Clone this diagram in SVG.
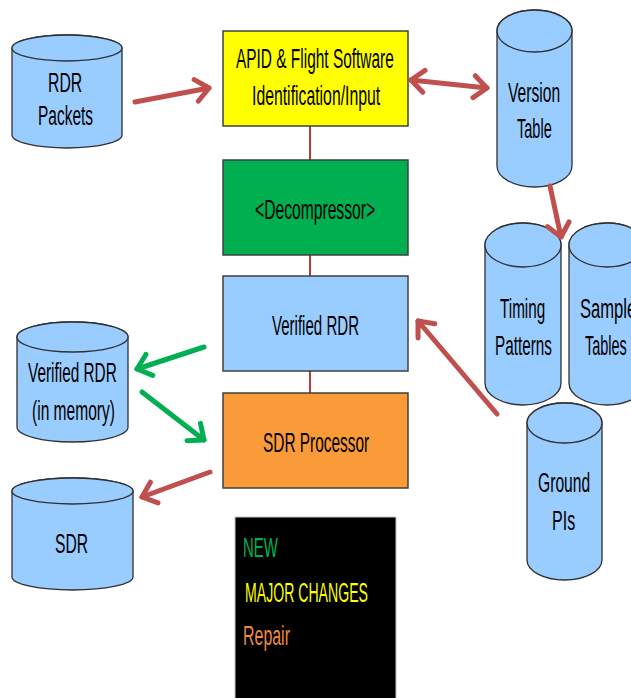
<svg xmlns="http://www.w3.org/2000/svg" width="631" height="698" viewBox="0 0 631 698">
  <style>
    .box { stroke: #404040; stroke-width: 1.5; }
    .cyl { fill: #99CCFF; stroke: #303030; stroke-width: 1.3; }
    .lbl { font-family: "Liberation Sans", Arial, sans-serif; font-size: 28px; fill: #000; }
    .leg { font-family: "Liberation Sans", Arial, sans-serif; font-size: 28px; }
    .red { fill: none; stroke: #C0504D; stroke-width: 5; stroke-linecap: round; }
    .green { fill: none; stroke: #00B050; stroke-width: 5; stroke-linecap: round; }
    .link { stroke: #B0403D; stroke-width: 2; }
  </style>
  <defs>
    <marker id="headRed" markerUnits="userSpaceOnUse" viewBox="-16 -14 20 28" markerWidth="20" markerHeight="28" refX="0" refY="0" orient="auto-start-reverse" overflow="visible">
      <path d="M -13,-11 L 0,0 L -13,11" fill="none" stroke="#C0504D" stroke-width="5" stroke-linecap="round" stroke-linejoin="round"/>
    </marker>
    <marker id="headGreen" markerUnits="userSpaceOnUse" viewBox="-16 -14 20 28" markerWidth="20" markerHeight="28" refX="0" refY="0" orient="auto" overflow="visible">
      <path d="M -13,-11 L 0,0 L -13,11" fill="none" stroke="#00B050" stroke-width="5" stroke-linecap="round" stroke-linejoin="round"/>
    </marker>
  </defs>
  <rect width="631" height="698" fill="#FFFFFF"/>

  <!-- vertical links of the processing chain -->
  <g id="chain-links">
    <line class="link" x1="310" y1="126" x2="310" y2="160"/>
    <line class="link" x1="310" y1="255" x2="310" y2="276"/>
    <line class="link" x1="310" y1="371" x2="310" y2="393"/>
  </g>

  <!-- processing boxes; labels use a condensed (x-scaled) face -->
  <g id="apid">
    <rect class="box" x="223" y="31" width="185" height="95" fill="#FFFF00"/>
    <text class="lbl" transform="translate(236,68) scale(0.58,1)" textLength="272" lengthAdjust="spacingAndGlyphs">APID &amp; Flight Software</text>
    <text class="lbl" transform="translate(252,105) scale(0.58,1)" textLength="221" lengthAdjust="spacingAndGlyphs">Identification/Input</text>
  </g>
  <g id="decompressor">
    <rect class="box" x="223" y="160" width="185" height="95" fill="#00B050"/>
    <text class="lbl" transform="translate(255,219) scale(0.58,1)" textLength="207" lengthAdjust="spacingAndGlyphs">&lt;Decompressor&gt;</text>
  </g>
  <g id="verified-rdr">
    <rect class="box" x="223" y="276" width="185" height="95" fill="#99CCFF"/>
    <text class="lbl" transform="translate(272,335) scale(0.58,1)" textLength="150" lengthAdjust="spacingAndGlyphs">Verified RDR</text>
  </g>
  <g id="sdr-processor">
    <rect class="box" x="223" y="393" width="185" height="95" fill="#F99B38"/>
    <text class="lbl" transform="translate(263,452) scale(0.58,1)" textLength="183" lengthAdjust="spacingAndGlyphs">SDR Processor</text>
  </g>

  <!-- data stores (cylinders) -->
  <g id="rdr-packets">
    <path class="cyl" d="M12,48 L12,135 A55,13 0 0 0 122,135 L122,48 A55,13 0 0 0 12,48 Z"/>
    <ellipse class="cyl" cx="67" cy="48" rx="55" ry="13"/>
    <text class="lbl" transform="translate(48,92) scale(0.58,1)" textLength="59" lengthAdjust="spacingAndGlyphs">RDR</text>
    <text class="lbl" transform="translate(38,125) scale(0.58,1)" textLength="95" lengthAdjust="spacingAndGlyphs">Packets</text>
  </g>
  <g id="version-table">
    <path class="cyl" d="M497,31 L497,166 A37.5,21 0 0 0 572,166 L572,31 A37.5,21 0 0 0 497,31 Z"/>
    <ellipse class="cyl" cx="534.5" cy="31" rx="37.5" ry="21"/>
    <text class="lbl" transform="translate(508,102) scale(0.58,1)" textLength="90" lengthAdjust="spacingAndGlyphs">Version</text>
    <text class="lbl" transform="translate(517,138) scale(0.58,1)" textLength="60" lengthAdjust="spacingAndGlyphs">Table</text>
  </g>
  <g id="timing-patterns">
    <path class="cyl" d="M485,245 L485,383 A38,22 0 0 0 561,383 L561,245 A38,22 0 0 0 485,245 Z"/>
    <ellipse class="cyl" cx="523" cy="245" rx="38" ry="22"/>
    <text class="lbl" transform="translate(500,318) scale(0.58,1)" textLength="78" lengthAdjust="spacingAndGlyphs">Timing</text>
    <text class="lbl" transform="translate(495,355) scale(0.58,1)" textLength="98" lengthAdjust="spacingAndGlyphs">Patterns</text>
  </g>
  <g id="sample-tables">
    <path class="cyl" d="M569,245 L569,383 A38,22 0 0 0 645,383 L645,245 A38,22 0 0 0 569,245 Z"/>
    <ellipse class="cyl" cx="607" cy="245" rx="38" ry="22"/>
    <text class="lbl" transform="translate(580,318) scale(0.58,1)" textLength="97" lengthAdjust="spacingAndGlyphs">Sample</text>
    <text class="lbl" transform="translate(585,355) scale(0.58,1)" textLength="72" lengthAdjust="spacingAndGlyphs">Tables</text>
  </g>
  <g id="ground-pis">
    <path class="cyl" d="M527,423 L527,560 A37.5,20 0 0 0 602,560 L602,423 A37.5,20 0 0 0 527,423 Z"/>
    <ellipse class="cyl" cx="564.5" cy="423" rx="37.5" ry="20"/>
    <text class="lbl" transform="translate(538,492) scale(0.58,1)" textLength="90" lengthAdjust="spacingAndGlyphs">Ground</text>
    <text class="lbl" transform="translate(552,530) scale(0.58,1)" textLength="40" lengthAdjust="spacingAndGlyphs">PIs</text>
  </g>
  <g id="verified-rdr-memory">
    <path class="cyl" d="M17,337 L17,427 A55.5,15 0 0 0 128,427 L128,337 A55.5,15 0 0 0 17,337 Z"/>
    <ellipse class="cyl" cx="72.5" cy="337" rx="55.5" ry="15"/>
    <text class="lbl" transform="translate(28,382) scale(0.58,1)" textLength="153" lengthAdjust="spacingAndGlyphs">Verified RDR</text>
    <text class="lbl" transform="translate(32,420) scale(0.58,1)" textLength="143" lengthAdjust="spacingAndGlyphs">(in memory)</text>
  </g>
  <g id="sdr">
    <path class="cyl" d="M12,491 L12,577 A60.5,13 0 0 0 133,577 L133,491 A60.5,13 0 0 0 12,491 Z"/>
    <ellipse class="cyl" cx="72.5" cy="491" rx="60.5" ry="13"/>
    <text class="lbl" transform="translate(55,553) scale(0.58,1)" textLength="57" lengthAdjust="spacingAndGlyphs">SDR</text>
  </g>

  <!-- legend -->
  <g id="legend">
    <rect x="235" y="517" width="161" height="185" fill="#000000" stroke="#C8C8C8" stroke-width="1"/>
    <text class="leg" transform="translate(243,557) scale(0.58,1)" fill="#00B050" textLength="60" lengthAdjust="spacingAndGlyphs">NEW</text>
    <text class="leg" transform="translate(245,602) scale(0.58,1)" fill="#FFFF00" textLength="212" lengthAdjust="spacingAndGlyphs">MAJOR CHANGES</text>
    <text class="leg" transform="translate(243,645) scale(0.58,1)" fill="#ED8A3C" textLength="81" lengthAdjust="spacingAndGlyphs">Repair</text>
  </g>

  <!-- data-flow arrows -->
  <g id="connectors">
    <line class="red" x1="135" y1="102" x2="209" y2="88" marker-end="url(#headRed)"/>
    <line class="red" x1="411" y1="80" x2="487" y2="88" marker-start="url(#headRed)" marker-end="url(#headRed)"/>
    <line class="red" x1="550" y1="186" x2="561" y2="237" marker-end="url(#headRed)"/>
    <line class="red" x1="497" y1="414" x2="418" y2="321" marker-end="url(#headRed)"/>
    <line class="green" x1="204" y1="347" x2="137" y2="369" marker-end="url(#headGreen)"/>
    <line class="green" x1="142" y1="392" x2="204" y2="440" marker-end="url(#headGreen)"/>
    <line class="red" x1="210" y1="472" x2="142" y2="497" marker-end="url(#headRed)"/>
  </g>
</svg>
